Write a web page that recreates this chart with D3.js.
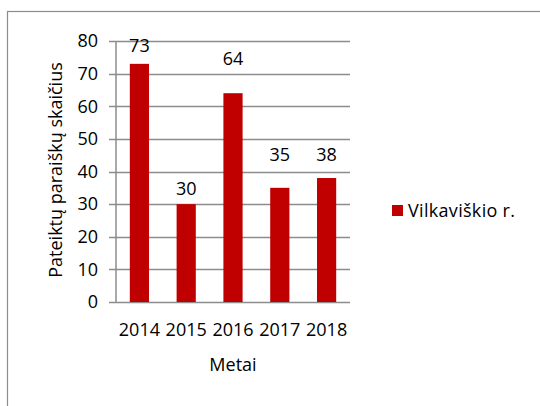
<!DOCTYPE html>
<html><head><meta charset="utf-8">
<script src="https://cdn.jsdelivr.net/npm/d3@7"></script>
<style>html,body{margin:0;padding:0;background:#fff;}svg{display:block;}</style>
</head><body>
<svg id="c" width="540" height="406"></svg>
<script>
const categories = ["2014","2015","2016","2017","2018"];
const values = [73,30,64,35,38];
const labelAt = [78.5,34.7,74.5,45,45];
const yTicks = [0,10,20,30,40,50,60,70,80];
const seriesName = "Vilkaviškio r.";
const yTitle = "Pateiktų paraiškų skaičius";
const xTitle = "Metai";

const svg = d3.select("#c");
const font = "'Open Sans', sans-serif";
const fs = 18;
const red = "#c00000";

svg.append("rect").attr("x",7.5).attr("y",11.5).attr("width",560).attr("height",420)
  .attr("fill","none").attr("stroke","#8c8c8c").attr("stroke-width",1.2);

const L=116, R=350, T=41, B=302;
const x = d3.scaleBand().domain(categories).range([L,R]).paddingInner(0.59).paddingOuter(0.295);
const y = d3.scaleLinear().domain([0,80]).range([B,T]);

const g = svg.append("g");
g.selectAll(".grid").data(yTicks).join("line")
  .attr("x1",L-7).attr("x2",R).attr("y1",d=>Math.round(y(d))+0.5).attr("y2",d=>Math.round(y(d))+0.5)
  .attr("stroke","#8c8c8c").attr("stroke-width",1.5);
g.append("line").attr("x1",L).attr("x2",L).attr("y1",T).attr("y2",B+0.5).attr("stroke","#8c8c8c").attr("stroke-width",1.5);

g.selectAll(".ytl").data(yTicks).join("text")
  .attr("x",98).attr("y",d=>y(d)).attr("dy","0.35em").attr("text-anchor","end")
  .attr("font-family",font).attr("font-size",fs).attr("fill","#000").text(d=>d);

g.selectAll(".bar").data(values).join("rect")
  .attr("x",(d,i)=>x(categories[i])).attr("width",x.bandwidth())
  .attr("y",d=>y(d)).attr("height",d=>B-y(d)).attr("fill",red);

g.selectAll(".vl").data(values).join("text")
  .attr("x",(d,i)=>x(categories[i])+x.bandwidth()/2).attr("y",(d,i)=>y(labelAt[i]))
  .attr("dy","0.35em").attr("text-anchor","middle")
  .attr("font-family",font).attr("font-size",fs).text(d=>d);

g.selectAll(".xtl").data(categories).join("text")
  .attr("x",d=>x(d)+x.bandwidth()/2).attr("y",330).attr("dy","0.35em").attr("text-anchor","middle")
  .attr("font-family",font).attr("font-size",fs).text(d=>d);

svg.append("text").attr("x",233).attr("y",365).attr("dy","0.35em").attr("text-anchor","middle")
  .attr("font-family",font).attr("font-size",fs).text(xTitle);

svg.append("text").attr("transform","translate(56,170) rotate(-90)").attr("dy","0.35em").attr("text-anchor","middle")
  .attr("font-family",font).attr("font-size",fs).text(yTitle);

svg.append("rect").attr("x",392).attr("y",205).attr("width",11).attr("height",11).attr("fill",red);
svg.append("text").attr("x",408).attr("y",211).attr("dy","0.35em")
  .attr("font-family",font).attr("font-size",fs)
  .attr("textLength",107).attr("lengthAdjust","spacing").text(seriesName);
</script>
</body></html>
